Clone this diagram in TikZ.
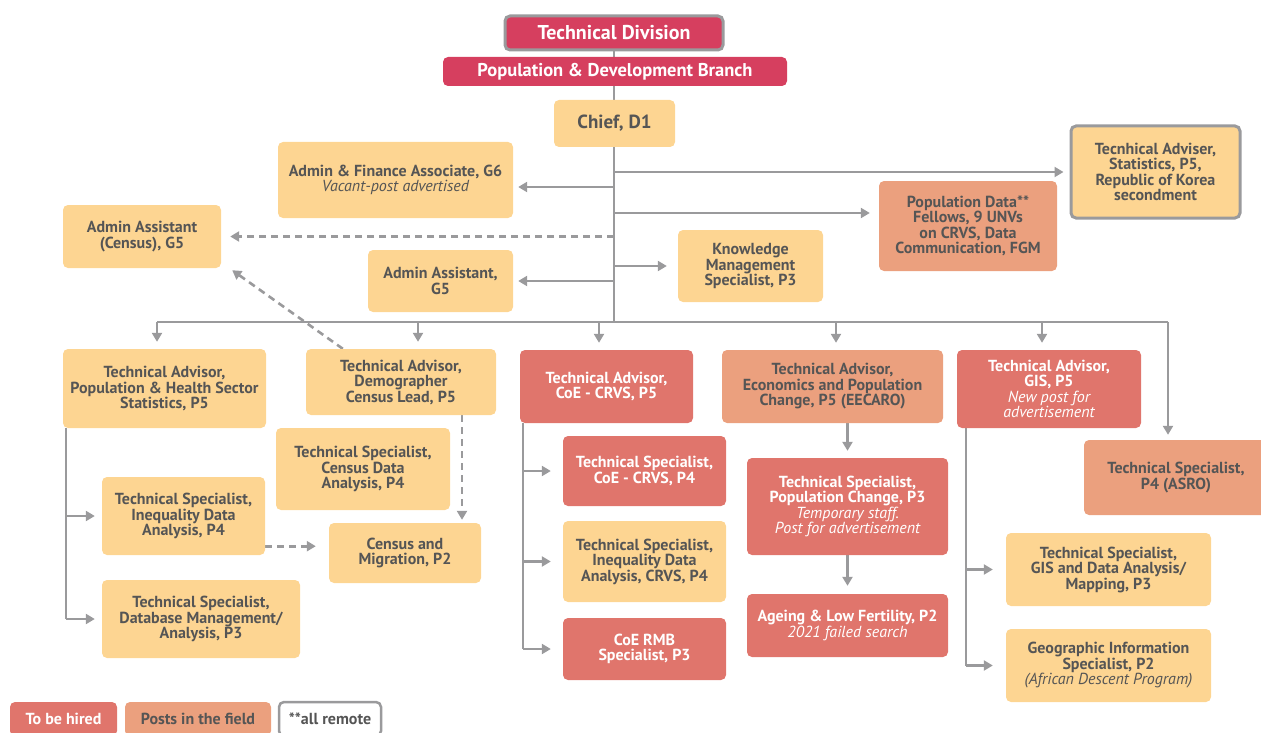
\documentclass[tikz,border=0pt]{standalone}
\usepackage{fontspec}
\setmainfont{PT Sans}
\usetikzlibrary{arrows.meta,backgrounds}
\definecolor{crimson}{HTML}{D63F5F}
\definecolor{postyellow}{HTML}{FDD592}
\definecolor{fieldorange}{HTML}{EBA07E}
\definecolor{hirered}{HTML}{E0756C}
\definecolor{linegray}{HTML}{9A9A9C}
\definecolor{textgray}{HTML}{555555}
\newcommand{\post}[7]{\node[#2, minimum width={(#5-#3)*1pt}, minimum height={(#6-#4)*1pt}] (#1) at ({(#3+#5)/2},{(#4+#6)/2}) {#7};}
\newcommand{\note}[1]{{\mdseries\itshape #1}}
\tikzset{
  post/.style={rectangle, rounded corners=5pt, inner sep=0pt, align=center, text=textgray,
    font=\bfseries\fontsize{16}{15.5}\selectfont},
  yellowpost/.style={post, fill=postyellow},
  fieldpost/.style={post, fill=fieldorange},
  hirepost/.style={post, fill=hirered, text=white},
  headpost/.style={post, fill=crimson, text=white, font=\bfseries\fontsize{18.5}{18}\selectfont},
  link/.style={draw=linegray, line width=2.6pt},
  arr/.style={link, -{Triangle[length=9pt,width=10pt]}},
  dasharr/.style={arr, dash pattern=on 7pt off 5pt},
}
\begin{document}
\begin{tikzpicture}[x=1pt,y=-1pt]
  \useasboundingbox (0,0) rectangle (1261,733);
  % head
  \post{div}{headpost, draw=linegray, line width=3pt, font=\bfseries\fontsize{20}{20}\selectfont}{505}{16}{723}{50}{Technical Division}
  \post{pdb}{headpost}{443}{57}{787}{86}{Population \& Development Branch}
  \post{chief}{yellowpost, font=\bfseries\fontsize{19}{19}\selectfont}{554}{100}{675}{147}{Chief, D1}
  % office of the chief
  \post{afa}{yellowpost}{278}{142}{513}{218}{Admin \& Finance Associate, G6\\\note{Vacant-post advertised}}
  \post{aac}{yellowpost}{63}{205}{221}{268}{Admin Assistant\\(Census), G5}
  \post{aag}{yellowpost}{368}{250}{513}{312}{Admin Assistant,\\G5}
  \post{kms}{yellowpost}{678}{230}{823}{302}{Knowledge\\Management\\Specialist, P3}
  \post{pdf}{fieldpost}{879}{181}{1057}{271}{Population Data**\\Fellows, 9 UNVs\\on CRVS, Data\\Communication, FGM}
  \post{tas}{yellowpost, draw=linegray, line width=3pt}{1071}{126}{1240}{218}{Tecnhical Adviser,\\Statistics, P5,\\Republic of Korea\\secondment}
  % advisors
  \post{taph}{yellowpost}{63}{349}{266}{428}{Technical Advisor,\\Population \& Health Sector\\Statistics, P5}
  \post{tad}{yellowpost}{306}{349}{496}{415}{Technical Advisor,\\Demographer\\Census Lead, P5}
  \post{tacc}{hirepost}{520}{350}{693}{423}{Technical Advisor,\\CoE - CRVS, P5}
  \post{taec}{fieldpost}{722}{350}{943}{423}{Technical Advisor,\\Economics and Population\\Change, P5 (EECARO)}
  \post{tagis}{hirepost}{957}{350}{1141}{428}{Technical Advisor,\\GIS, P5\\\note{New post for}\\\note{advertisement}}
  % specialists
  \post{tscd}{yellowpost}{276}{428}{450}{510}{Technical Specialist,\\Census Data\\Analysis, P4}
  \post{tsid}{yellowpost}{102}{477}{265}{555}{Technical Specialist,\\Inequality Data\\Analysis, P4}
  \post{cm}{yellowpost}{329}{523}{481}{583}{Census and\\Migration, P2}
  \post{tsdb}{yellowpost}{102}{580}{300}{658}{Technical Specialist,\\Database Management/\\Analysis, P3}
  \post{tscc}{hirepost}{563}{436}{726}{506}{Technical Specialist,\\CoE - CRVS, P4}
  \post{tsic}{yellowpost}{563}{521}{726}{602}{Technical Specialist,\\Inequality Data\\Analysis, CRVS, P4}
  \post{rmb}{hirepost}{563}{618}{726}{680}{CoE RMB\\Specialist, P3}
  \post{tspc}{hirepost}{747}{458}{948}{555}{Technical Specialist,\\Population Change, P3\\\note{Temporary staff.}\\\note{Post for advertisement}}
  \post{alf}{hirepost}{747}{594}{948}{657}{Ageing \& Low Fertility, P2\\\note{2021 failed search}}
  \post{asro}{fieldpost}{1084}{440}{1268}{515}{Technical Specialist,\\P4 (ASRO)}
  \post{tsgis}{yellowpost}{1006}{533}{1211}{606}{Technical Specialist,\\GIS and Data Analysis/\\Mapping, P3}
  \post{gio}{yellowpost}{1006}{629}{1211}{702}{Geographic Information\\Specialist, P2\\\note{(African Descent Program)}}
  % legend
  \post{lhire}{hirepost}{10}{702}{117}{736}{To be hired}
  \post{lfield}{fieldpost}{125}{702}{271}{736}{Posts in the field}
  \post{lremote}{post, fill=white, draw=linegray, line width=2.5pt}{279}{702}{381}{736}{**all remote}
  % joints
  \coordinate (hub) at (614,322);
  \coordinate (j1) at (614,187);
  \coordinate (j2) at (614,213);
  \coordinate (d1) at (157,322);
  \coordinate (d2) at (418,322);
  \coordinate (d3) at (599,322);
  \coordinate (d4) at (836,322);
  \coordinate (d5) at (1042,322);
  \coordinate (d6) at (1168,322);
  \begin{scope}[on background layer]
    % trunk
    \draw[link] (div.center) -- (hub);
    \draw[arr, shorten >=6pt] (tas.west -| hub) -- (tas.west);
    \draw[arr, shorten >=5pt] (j1) -- (j1 -| afa.east);
    \draw[arr, shorten >=9pt] (j2) -- (j2 -| pdf.west);
    \draw[dasharr, shorten >=9pt] (aac.east -| hub) -- (aac.east);
    \draw[arr, shorten >=11pt] (kms.west -| hub) -- (kms.west);
    \draw[arr, shorten >=5pt] (aag.east -| hub) -- (aag.east);
    % bar
    \draw[link] (d1) -- (d6);
    \draw[arr, shorten >=5pt] (d6) -- (d6 |- asro.north);
    \foreach \d/\n in {d1/taph, d2/tad, d3/tacc, d4/taec, d5/tagis}
      \draw[arr, shorten >=7pt] (\d) -- (\d |- \n.north);
    % census
    \draw[dasharr] ([xshift=37pt]tad.north west) -- ([xshift=11pt,yshift=-2pt]aac.south east);
    \draw[dasharr, shorten >=3pt] ([xshift=61pt]tad.south) -- ([xshift=61pt]tad.south |- cm.north);
    \draw[dasharr, shorten >=13pt] ([yshift=9pt]tsid.south east) -- ([yshift=9pt]tsid.south east -| cm.west);
    % population and health
    \draw[link] ([xshift=3pt]taph.south west) -- ([xshift=3pt]taph.south west |- tsdb.west);
    \draw[arr, shorten >=7pt] ([xshift=3pt]taph.south west |- tsid.west) -- (tsid.west);
    \draw[arr, shorten >=7pt] ([xshift=3pt]taph.south west |- tsdb.west) -- (tsdb.west);
    % coe crvs
    \draw[link] ([xshift=3pt]tacc.south west) -- ([xshift=3pt]tacc.south west |- rmb.west);
    \foreach \n in {tscc, tsic, rmb}
      \draw[arr, shorten >=12pt] ([xshift=3pt]tacc.south west |- \n.west) -- (\n.west);
    % economics
    \draw[arr, shorten >=7pt] (tspc.north |- taec.south) -- (tspc.north);
    \draw[arr, shorten >=8pt] (tspc.south) -- (alf.north);
    % gis
    \draw[link] ([xshift=9pt]tagis.south west) -- ([xshift=9pt]tagis.south west |- gio.west);
    \foreach \n in {tsgis, gio}
      \draw[arr, shorten >=13pt] ([xshift=9pt]tagis.south west |- \n.west) -- (\n.west);
  \end{scope}
\end{tikzpicture}
\end{document}
